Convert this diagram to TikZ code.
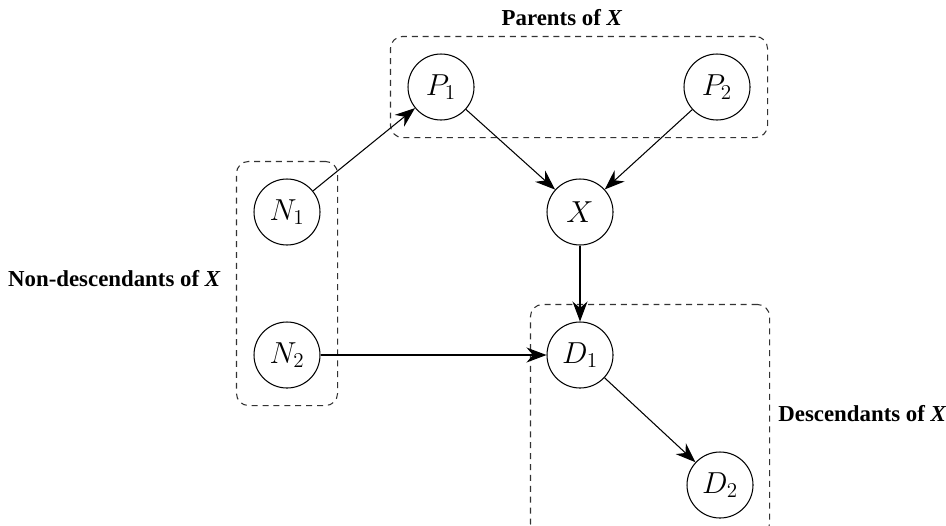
\documentclass[tikz,border=0pt]{standalone}
\usepackage{fontspec}
\setmainfont{Liberation Serif}
\usepackage{tikz}
\usetikzlibrary{
    positioning,
    arrows.meta,
    fit,
}
\tikzset{
    % Node styles
    var/.style={circle, draw, line width=0.6pt, minimum size=13.2mm, inner sep=0pt, font=\LARGE},
    % Group styles
    group/.style={rectangle, draw=black!80, line width=0.6pt, dash pattern=on 3.4pt off 2.8pt,
                  rounded corners=2.4mm, inner sep=3.4mm},
    group label/.style={font=\fontsize{13}{15}\selectfont\bfseries, inner sep=0pt},
    % Arrow styles
    arrow/.style={-{Stealth[length=4mm, width=3mm, inset=1.3mm]}, line width=0.6pt},
}

\begin{document}
\begin{tikzpicture}
    \useasboundingbox (0, 0) rectangle (18.92, -10.5);

    % Parents
    \node[var] (p1) at (8.82, -1.74) {$P_1$};
    \node[var] (p2) at (14.34, -1.74) {$P_2$};

    % Query variable
    \node[var] (x) at (11.60, -4.24) {$X$};

    % Non-descendants
    \node[var] (n1) at (5.74, -4.24) {$N_1$};
    \node[var] (n2) at (5.74, -7.10) {$N_2$};

    % Descendants
    \node[var] (d1) at (11.60, -7.10) {$D_1$};
    \node[var] (d2) at (14.40, -9.70) {$D_2$};

    % Groups
    \node[group, fit=(p1) (p2)] (parents) {};
    \node[group, fit=(n1) (n2)] (nondesc) {};
    \node[group, fit=(d1) (d2), inner xsep=3.2mm] (desc) {};

    % Edges
    \draw[arrow] (n1) -- (p1);
    \draw[arrow] (p1) -- (x);
    \draw[arrow] (p2) -- (x);
    \draw[arrow] (x) -- (d1);
    \draw[arrow] (n2) -- (d1);
    \draw[arrow] (d1) -- (d2);

    % Labels
    \node[group label, above=2mm of parents, xshift=-3.4mm] (parentslabel) {Parents of \textit{X}};
    \node[group label, left=3mm of nondesc, yshift=1mm] (nondesclabel) {Non-descendants of \textit{X}};
    \node[group label, right=1.6mm of desc, yshift=1.2mm] (desclabel) {Descendants of \textit{X}};
\end{tikzpicture}
\end{document}
